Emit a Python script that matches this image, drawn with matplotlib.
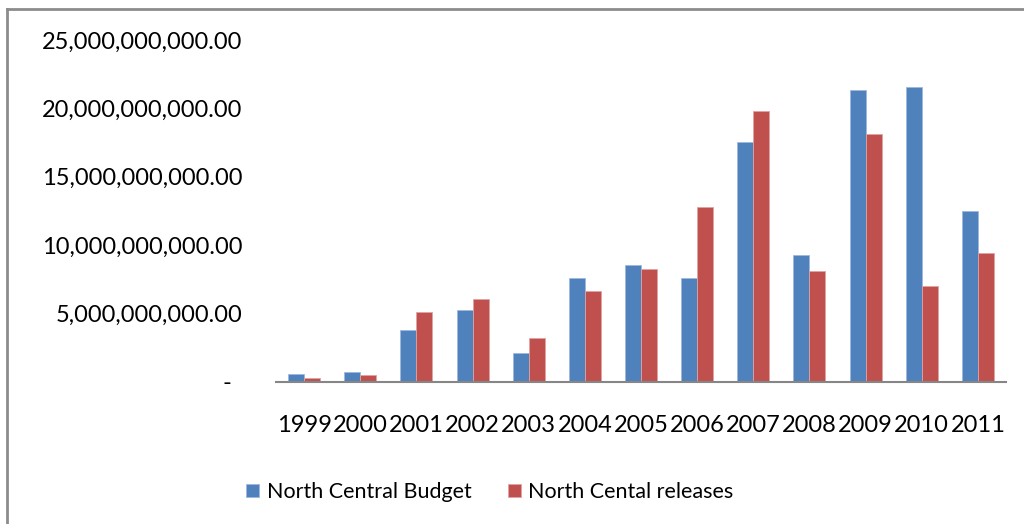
import matplotlib
matplotlib.use('Agg')
import matplotlib.pyplot as plt
import matplotlib.transforms as mtransforms
from matplotlib.lines import Line2D
import numpy as np

# Yearly figures for North Central
years = ['1999', '2000', '2001', '2002', '2003', '2004', '2005',
         '2006', '2007', '2008', '2009', '2010', '2011']
budget = [0.56e9, 0.73e9, 3.76e9, 5.23e9, 2.10e9, 7.57e9, 8.52e9,
          7.57e9, 17.54e9, 9.25e9, 21.32e9, 21.54e9, 12.47e9]
releases = [0.27e9, 0.51e9, 5.08e9, 6.03e9, 3.18e9, 6.62e9, 8.25e9,
            12.78e9, 19.78e9, 8.08e9, 18.10e9, 6.98e9, 9.39e9]
yticks = [0, 5e9, 10e9, 15e9, 20e9, 25e9]
ytick_labels = ['-', '5,000,000,000.00', '10,000,000,000.00',
                '15,000,000,000.00', '20,000,000,000.00', '25,000,000,000.00']

plt.rcParams['font.family'] = ['Lato', 'DejaVu Sans']

fig = plt.figure(figsize=(10.24, 5.24), dpi=100)
ax = fig.add_axes([0.2695, 0.2716, 0.9824 - 0.2695, 0.9237 - 0.2716])

x = np.arange(len(years))
w = 0.285
ax.bar(x - w / 2, budget, w, color='#4F81BD', edgecolor='#9DB9DE', linewidth=0.6,
       label='North Central Budget')
ax.bar(x + w / 2, releases, w, color='#C0504D', edgecolor='#E0A3A1', linewidth=0.6,
       label='North Cental releases')

ax.set_xlim(-0.5, len(years) - 0.5)
ax.set_ylim(0, 25e9)
ax.set_xticks(x)
ax.set_xticklabels(years)
ax.set_yticks(yticks)
ax.set_yticklabels(ytick_labels)
ax.tick_params(axis='both', length=0, labelsize=17, labelcolor='black')
ax.tick_params(axis='x', pad=24)
ax.tick_params(axis='y', pad=24)

for side in ['left', 'right', 'top']:
    ax.spines[side].set_visible(False)
ax.spines['bottom'].set_color('#868686')
ax.spines['bottom'].set_linewidth(1.5)

# nudge the zero label left like an accounting format
zero_lbl = ax.get_yticklabels()[0]
zero_lbl.set_transform(zero_lbl.get_transform() +
                       mtransforms.ScaledTranslation(-0.11, 0, fig.dpi_scale_trans))

leg = fig.legend(loc='center', bbox_to_anchor=(490 / 1024, 1 - 492 / 524), ncol=2,
                 frameon=False, fontsize=15.5, handlelength=0.6, handleheight=0.6,
                 handletextpad=0.35, columnspacing=1.7)

# chart area border (left and top edges)
fig.add_artist(Line2D([7 / 1024, 7 / 1024], [0, 1 - 9 / 524], color='#8C8C8C', linewidth=2))
fig.add_artist(Line2D([7 / 1024, 1], [1 - 9 / 524, 1 - 9 / 524], color='#8C8C8C', linewidth=2))

fig.savefig('out.png', dpi=100)
